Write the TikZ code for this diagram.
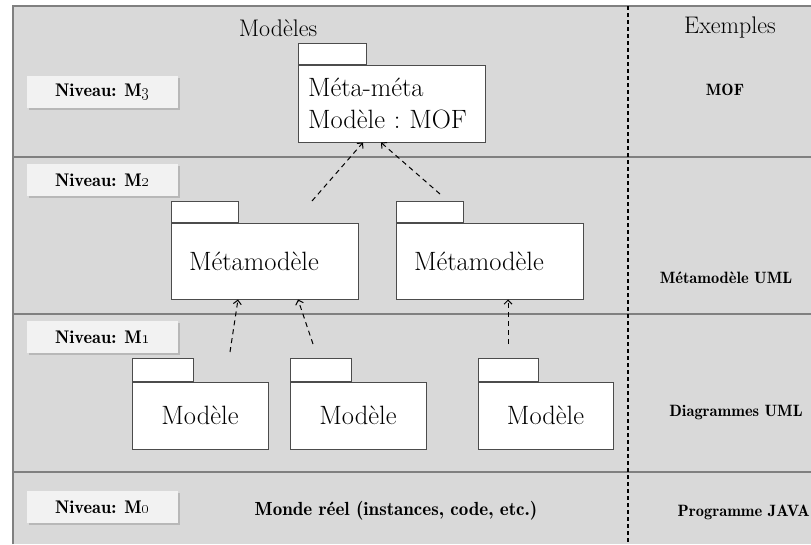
\documentclass[tikz,border=0pt]{standalone}
\usetikzlibrary{arrows.meta,shadows}

\begin{document}
\begin{tikzpicture}[x=1pt,y=-1pt,>={Straight Barb[length=4pt,width=8pt]},
		rule/.style={draw=black!50,line width=1.2pt},
		niveau/.style={fill=black!5,minimum width=151pt,minimum height=32pt,inner sep=0pt,font=\fontsize{18.3}{21}\fontseries{b}\selectfont,drop shadow={shadow xshift=1.5pt,shadow yshift=-2pt,fill=black!40}},
		exemple/.style={font=\fontsize{16.4}{19}\fontseries{b}\selectfont},
		titre/.style={font=\fontsize{24}{28}\selectfont},
		pkg/.style={draw=black!70,fill=white,line width=1pt,minimum height=76pt,font=\fontsize{26.5}{32}\selectfont\frenchspacing},
		tab/.style={draw=black!70,fill=white,line width=1pt,anchor=south west,inner sep=0pt},
		dep/.style={->,dash pattern=on 5pt off 4pt,line width=1pt}]
		\useasboundingbox (0,0) rectangle (811,544);
		
		% fond et niveaux
		\fill[black!15] (13,6) rectangle (811,544);
		\draw[rule] (13,544) -- (13,6) -- (811,6);
		\draw[rule] (13,157) -- (811,157);
		\draw[rule] (13,314) -- (811,314);
		\draw[rule] (13,472) -- (811,472);
		\draw[black,line width=1.2pt,dash pattern=on 4pt off 3pt] (628,6) -- (628,544);
		
		\node[titre] (modeles) at (278,28) {Modèles};
		\node[titre] (exemples) at (730,28) {Exemples};
		
		\node[niveau] (m3) at (102.5,92) {Niveau: M\oldstylenums{3}};
		\node[niveau] (m2) at (102.5,180) {Niveau: M\oldstylenums{2}};
		\node[niveau] (m1) at (102.5,337) {Niveau: M\oldstylenums{1}};
		\node[niveau] (m0) at (102.5,507) {Niveau: M\oldstylenums{0}};
		
		\node[exemple] (exmof) at (725,90) {MOF};
		\node[exemple] (exmeta) at (726,278) {Métamodèle UML};
		\node[exemple] (exdiag) at (736,413) {Diagrammes UML};
		\node[exemple,anchor=east,inner xsep=1pt] (exjava) at (811,512) {Programme JAVA};
		\node[font=\fontsize{19}{22}\fontseries{b}\selectfont] (monde) at (396,511) {Monde réel (instances, code, etc.)};
		
		% paquetages
		\node[pkg,minimum height=77pt,text width=167pt,inner xsep=10pt,align=left] (meta) at (391.5,103.5) {Méta-méta\\Modèle : MOF};
		\node[tab,minimum width=68pt,minimum height=21pt] (metatab) at (meta.north west) {};
		
		\node[pkg,text width=151pt,inner xsep=18pt,align=left] (mmL) at (264.5,261) {Métamodèle};
		\node[tab,minimum width=67pt,minimum height=21pt] (mmLtab) at (mmL.north west) {};
		\node[pkg,text width=151pt,inner xsep=18pt,align=left] (mmR) at (489.5,261) {Métamodèle};
		\node[tab,minimum width=67pt,minimum height=21pt] (mmRtab) at (mmR.north west) {};
		
		\node[pkg,minimum width=136pt,minimum height=67pt] (modA) at (200,415.5) {Modèle};
		\node[tab,minimum width=61pt,minimum height=23pt] (modAtab) at (modA.north west) {};
		\node[pkg,minimum width=136pt,minimum height=67pt] (modB) at (358,415.5) {Modèle};
		\node[tab,minimum width=61pt,minimum height=23pt] (modBtab) at (modB.north west) {};
		\node[pkg,minimum width=135pt,minimum height=67pt] (modC) at (545.5,415.5) {Modèle};
		\node[tab,minimum width=60pt,minimum height=23pt] (modCtab) at (modC.north west) {};
		
		% dependances
		\coordinate (d1) at (312,201);
		\coordinate (d2) at (440,194);
		\coordinate (d3) at (230,352);
		\coordinate (d4) at (313,344);
		\coordinate (d5) at (508,344);
		\draw[dep] (d1) -- ([shift={(-28.5,0)}]meta.south);
		\draw[dep] (d2) -- ([shift={(-10.5,0)}]meta.south);
		\draw[dep] (d3) -- ([shift={(-26.5,0)}]mmL.south);
		\draw[dep] (d4) -- ([shift={(33.5,0)}]mmL.south);
		\draw[dep] (d5) -- ([shift={(18.5,0)}]mmR.south);
\end{tikzpicture}
\end{document}
